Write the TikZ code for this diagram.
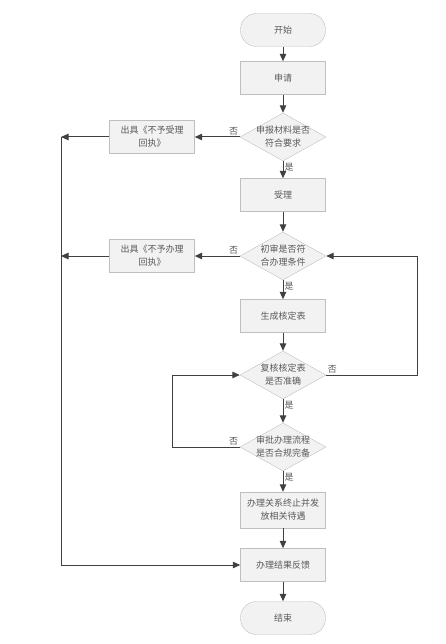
\documentclass[tikz,border=0pt]{standalone}
\usepackage{fontspec}
\newfontfamily\cjk{Noto Sans CJK SC}
\usetikzlibrary{shapes.geometric,arrows.meta}

\definecolor{boxfill}{HTML}{F2F2F2}
\definecolor{boxline}{HTML}{BFBFBF}
\definecolor{arrline}{HTML}{404040}
\definecolor{txt}{HTML}{595959}

\tikzset{
  box/.style={draw=boxline, fill=boxfill, minimum width=85pt, minimum height=33pt,
    inner sep=1pt, font=\cjk\fontsize{9}{13}\selectfont, text=txt, align=center},
  term/.style={box, rounded corners=16pt},
  decision/.style={diamond, draw=boxline, fill=boxfill, minimum width=86pt,
    minimum height=48pt, inner sep=0pt},
  dtext/.style={font=\cjk\fontsize{9}{13}\selectfont, text=txt, align=center},
  yn/.style={font=\cjk\fontsize{9}{10}\selectfont, text=txt, inner sep=1.5pt},
  arr/.style={draw=arrline, line width=1pt, -{Triangle[length=7.5pt,width=6.5pt]}}
}

\begin{document}
\begin{tikzpicture}[x=1pt,y=-1pt]
\useasboundingbox (0,0) rectangle (446,644);

% main column
\node[term] (start) at (283,30) {开始};
\node[box] (apply) at (283,78) {申请};
\node[decision, label={[dtext]center:申报材料是否\\符合要求}] (d1) at (283,137) {};
\node[box] (accept) at (283,195) {受理};
\node[decision, label={[dtext]center:初审是否符\\合办理条件}] (d2) at (283,256) {};
\node[box] (table) at (283,316) {生成核定表};
\node[decision, label={[dtext]center:复核核定表\\是否准确}] (d3) at (283,375) {};
\node[decision, label={[dtext]center:审批办理流程\\是否合规完备}] (d4) at (283,447) {};
\node[box, minimum height=36pt] (stop) at (283,510) {办理关系终止并发\\放相关待遇};
\node[box] (feedback) at (283,565) {办理结果反馈};
\node[term] (end) at (283,618) {结束};

% rejection receipts
\node[box] (rej1) at (152,137) {出具《不予受理\\回执》};
\node[box] (rej2) at (152,256) {出具《不予办理\\回执》};

\coordinate (l1) at (61,137);
\coordinate (l2) at (61,565);

\draw[arr] (start) -- (apply);
\draw[arr] (apply) -- (d1);
\draw[arr] (d1) -- (accept);
\draw[arr] (accept) -- (d2);
\draw[arr] (d2) -- (table);
\draw[arr] (table) -- (d3);
\draw[arr] (d3) -- (d4);
\draw[arr] (d4) -- (stop);
\draw[arr] (stop) -- (feedback);
\draw[arr] (feedback) -- (end);

\draw[arr] (d1) -- (rej1);
\draw[arr] (d2) -- (rej2);
\draw[arr] (rej1) -- (l1);
\draw[arr] (rej2.west) -- (l1 |- rej2.west);
\draw[arr] (l1) -- (l2) -- (feedback.west);

% loops back
\draw[arr] (d3.east) -- ++(91,0) |- (d2.east);
\draw[arr] (d4.west) -- ++(-67,0) |- (d3.west);

% yes / no
\node[yn, above left] at (d1.west) {否};
\node[yn, below right] at (d1.south) {是};
\node[yn, above left] at (d2.west) {否};
\node[yn, below right] at (d2.south) {是};
\node[yn, above right] at (d3.east) {否};
\node[yn, below right] at (d3.south) {是};
\node[yn, above left] at (d4.west) {否};
\node[yn, below right] at (d4.south) {是};
\end{tikzpicture}
\end{document}
